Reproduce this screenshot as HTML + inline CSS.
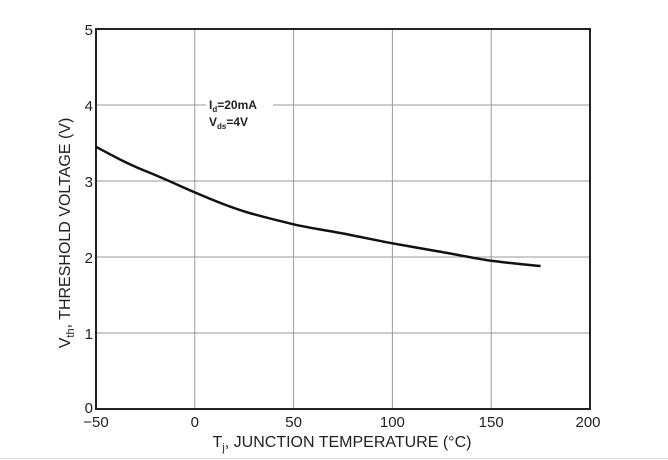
<!DOCTYPE html>
<html><head><style>body{margin:0;background:#fff}svg{display:block}text{font-family:"Liberation Sans",sans-serif;fill:#222}</style></head><body>
<svg width="668" height="460" viewBox="0 0 668 460">
<rect width="668" height="460" fill="#fff"/>
<g stroke="#999" stroke-width="1">
<line x1="194.8" y1="29" x2="194.8" y2="409"/><line x1="293.6" y1="29" x2="293.6" y2="409"/><line x1="392.4" y1="29" x2="392.4" y2="409"/><line x1="491.2" y1="29" x2="491.2" y2="409"/>
<line x1="96" y1="105" x2="590" y2="105"/><line x1="96" y1="181" x2="590" y2="181"/><line x1="96" y1="257" x2="590" y2="257"/><line x1="96" y1="333" x2="590" y2="333"/>
</g>
<rect x="96" y="29" width="494" height="380" fill="none" stroke="#222" stroke-width="2"/>
<rect x="206" y="95" width="67" height="32" fill="#fff"/>
<text x="209" y="109" font-size="12" font-weight="bold">I<tspan font-size="8" dy="3">d</tspan><tspan dy="-3">=20mA</tspan></text>
<text x="209" y="126" font-size="12" font-weight="bold">V<tspan font-size="8" dy="3">ds</tspan><tspan dy="-3">=4V</tspan></text>
<path d="M96,146.8 C115,157 130,165 145.4,171 S180,186 194.8,192.4 S230,207 244.2,211.4 S280,221 293.6,224.3 S330,231 343,233.5 S380,241 392.4,243.3 S430,250 441.8,252 S478,259 491.2,260.8 S530,265 540.6,266.1" fill="none" stroke="#111" stroke-width="2.5"/>
<g font-size="15" text-anchor="end">
<text x="93" y="35">5</text><text x="93" y="111">4</text><text x="93" y="187">3</text><text x="93" y="263">2</text><text x="93" y="339">1</text><text x="93" y="413">0</text>
</g>
<g font-size="15" text-anchor="middle">
<text x="96" y="427">−50</text><text x="194.8" y="427">0</text><text x="293.6" y="427">50</text><text x="392.4" y="427">100</text><text x="491.2" y="427">150</text><text x="588" y="427">200</text>
</g>
<text x="342" y="447" font-size="16" text-anchor="middle">T<tspan font-size="11" dy="4">j</tspan><tspan dy="-4">, JUNCTION TEMPERATURE (°C)</tspan></text>
<text transform="translate(70,233) rotate(-90)" font-size="16" text-anchor="middle">V<tspan font-size="11" dy="4">th</tspan><tspan dy="-4">, THRESHOLD VOLTAGE (V)</tspan></text>
<line x1="0" y1="458.5" x2="668" y2="458.5" stroke="#ddd"/>
</svg>
</body></html>
